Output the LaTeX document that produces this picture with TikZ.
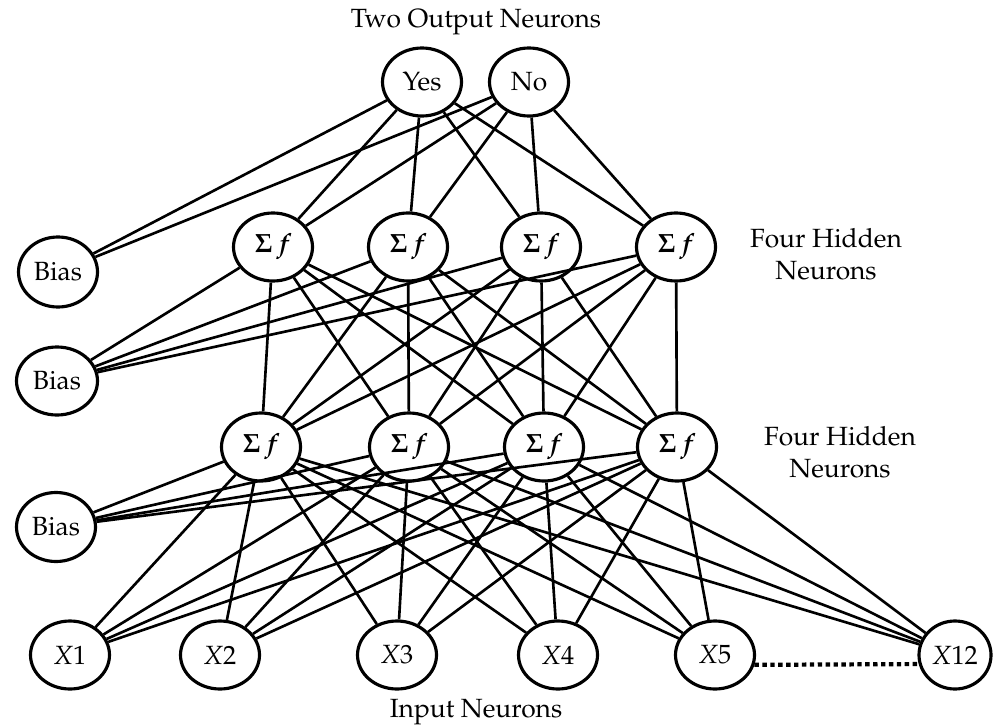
\documentclass[tikz,border=0pt]{standalone}
\usepackage[T1]{fontenc}
\usepackage{mathpazo}
\usepackage{tikz}
\usetikzlibrary{shapes.geometric}

\begin{document}
\begin{tikzpicture}[x=0.2mm, y=-0.2mm,
    neuron/.style={draw, ellipse, line width=1.8pt, inner sep=0pt,
                   minimum width=1.58cm, minimum height=1.36cm},
    link/.style={line width=1.5pt},
    every node/.style={font=\fontsize{15}{18}\selectfont}]
\useasboundingbox (0,0) rectangle (993,727);
% output layer
\node at (476,22) {Two Output Neurons};
\node[neuron] (yes) at (422,82) {Yes};
\node[neuron] (no) at (529,82) {No};
% second hidden layer
\node[neuron, minimum height=1.4cm] (bias1) at (58,272) {Bias};
\foreach \i/\x in {1/273, 2/408, 3/541, 4/676}
    \node[neuron] (hb\i) at (\x,247) {$\mathbf{\Sigma}$ \textbf{\textit{f}}};
\node[align=center] (lblb) at (826,254) {Four Hidden\\Neurons};
% first hidden layer
\node[neuron, minimum width=1.62cm] (bias2) at (57,381) {Bias};
\foreach \i/\x in {1/261, 2/409, 3/544, 4/677}
    \node[neuron] (ha\i) at (\x,447) {$\mathbf{\Sigma}$ \textbf{\textit{f}}};
\node[align=center] (lbla) at (840,452) {Four Hidden\\Neurons};
% input layer
\node[neuron, minimum height=1.38cm] (bias3) at (56,527) {Bias};
\foreach \i/\x in {1/70, 2/220, 3/397, 4/558, 5/715}
    \node[neuron] (x\i) at (\x,655) {\textit{X}\i};
\node[neuron, minimum width=1.44cm] (x12) at (955,655) {\textit{X}12};
\node at (476,712) {Input Neurons};

% connections
\foreach \o in {yes, no} {
    \draw[link] (bias1) -- (\o);
    \foreach \h in {1,...,4}
        \draw[link] (hb\h) -- (\o);
}
\foreach \h in {1,...,4} {
    \draw[link] (bias2) -- (hb\h);
    \draw[link] (bias3) -- (ha\h);
    \foreach \g in {1,...,4}
        \draw[link] (ha\g) -- (hb\h);
    \foreach \x in {1,2,3,4,5,12}
        \draw[link] (x\x) -- (ha\h);
}
\draw[line width=2.4pt, dash pattern=on 2.5pt off 2pt] (x5.-14) -- (x12.-166);
\end{tikzpicture}
\end{document}
